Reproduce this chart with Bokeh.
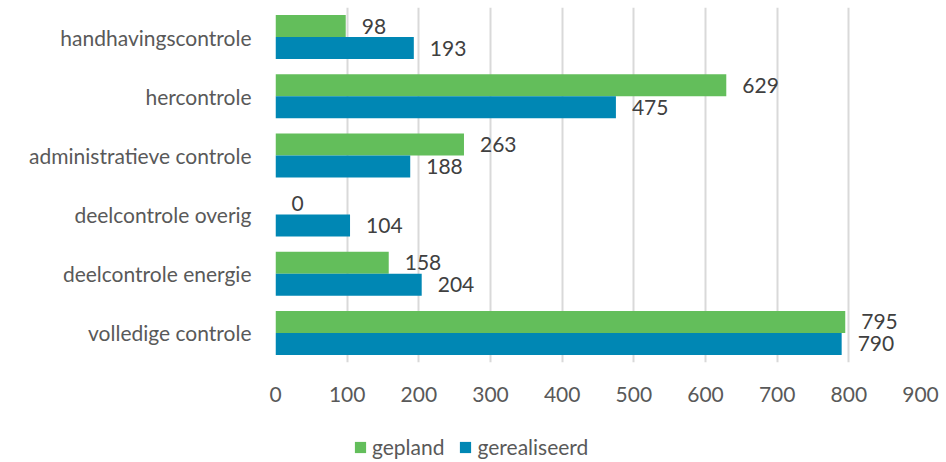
from bokeh.plotting import figure
from bokeh.models import (ColumnDataSource, FactorRange, Legend, LegendItem,
                          SingleIntervalTicker, Range1d)
from bokeh.layouts import column
from bokeh.transform import dodge
from bokeh.core.properties import value
from bokeh.embed import file_html
from bokeh.resources import INLINE

categories = ["handhavingscontrole", "hercontrole", "administratieve controle",
              "deelcontrole overig", "deelcontrole energie", "volledige controle"]
gepland = [98, 629, 263, 0, 158, 795]
gerealiseerd = [193, 475, 188, 104, 204, 790]
series_names = ["gepland", "gerealiseerd"]

GREEN = "#63be5b"
BLUE = "#0087b4"
TXT = "#595959"
FONT = "Lato"
FS = "21px"

src = ColumnDataSource(dict(cat=categories, gepland=gepland, gerealiseerd=gerealiseerd,
                            lg=[str(v) for v in gepland], lr=[str(v) for v in gerealiseerd]))

p = figure(width=946, height=412, y_range=FactorRange(*reversed(categories)),
           x_range=(0, 900), output_backend="svg", toolbar_location=None,
           min_border_left=275, min_border_right=26, min_border_top=7, min_border_bottom=50)

off = 0.186
bh = 0.372
rg = p.hbar(y=dodge("cat", off, range=p.y_range), right="gepland", left=0, height=bh,
            source=src, color=GREEN, line_color=None)
rb = p.hbar(y=dodge("cat", -off, range=p.y_range), right="gerealiseerd", left=0, height=bh,
            source=src, color=BLUE, line_color=None)

p.text(x="gepland", y=dodge("cat", off, range=p.y_range), text="lg", source=src,
       x_offset=16, text_baseline="middle", text_align="left",
       text_font=value(FONT), text_font_size=FS, text_color="#404040")
p.text(x="gerealiseerd", y=dodge("cat", -off, range=p.y_range), text="lr", source=src,
       x_offset=16, text_baseline="middle", text_align="left",
       text_font=value(FONT), text_font_size=FS, text_color="#404040")

p.outline_line_color = None
p.ygrid.grid_line_color = None
p.xgrid.grid_line_color = "#d9d9d9"
p.xgrid.grid_line_width = 2
p.xaxis.ticker = SingleIntervalTicker(interval=100)

for ax in (p.xaxis[0], p.yaxis[0]):
    ax.axis_line_color = None
    ax.major_tick_line_color = None
    ax.minor_tick_line_color = None
    ax.major_tick_out = 0
    ax.major_tick_in = 0
    ax.major_label_text_font = FONT
    ax.major_label_text_font_size = FS
    ax.major_label_text_color = TXT
p.xaxis.major_label_standoff = 20
p.yaxis.major_label_standoff = 24

# legend strip below the chart
lp = figure(width=946, height=50, x_range=Range1d(0, 1), y_range=Range1d(0, 1),
            output_backend="svg", toolbar_location=None,
            min_border_left=0, min_border_right=0, min_border_top=0, min_border_bottom=0)
lp.axis.visible = False
lp.grid.visible = False
lp.outline_line_color = None
# proxy source lies outside the visible range: only the legend swatches show
proxy = ColumnDataSource(dict(y=[-10], r=[1]))
lg_g = lp.hbar(y="y", right="r", left=0, height=0.5, source=proxy, color=GREEN, line_color=None)
lg_b = lp.hbar(y="y", right="r", left=0, height=0.5, source=proxy, color=BLUE, line_color=None)

legend = Legend(items=[LegendItem(label=series_names[0], renderers=[lg_g]),
                       LegendItem(label=series_names[1], renderers=[lg_b])],
                orientation="horizontal", location=(78, 3),
                label_text_font=FONT, label_text_font_size=FS, label_text_color=TXT,
                glyph_width=14, glyph_height=14, spacing=14, label_standoff=5,
                border_line_color=None, background_fill_alpha=0, padding=4, margin=0)
lp.add_layout(legend, "center")

layout = column(p, lp, spacing=0)
open("out.html", "w").write(file_html(layout, INLINE))
